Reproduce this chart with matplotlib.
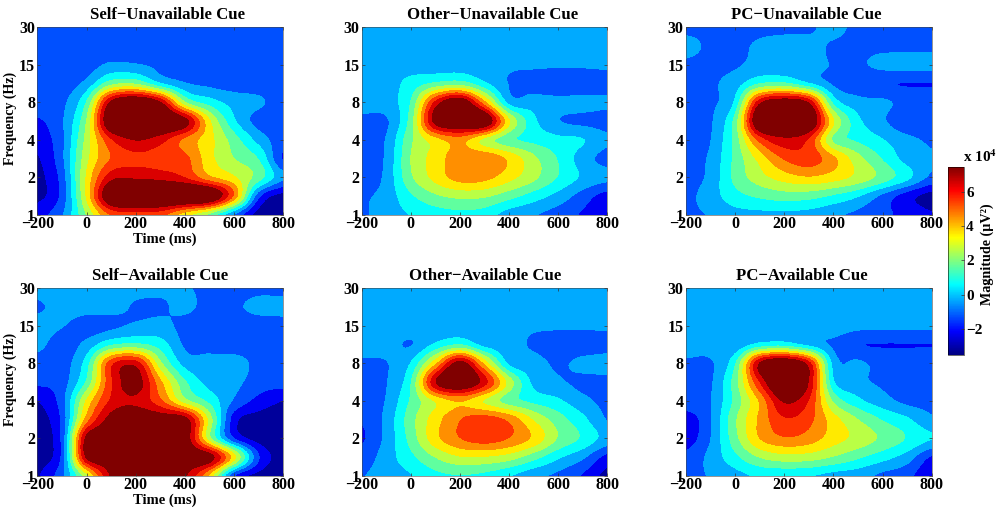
import numpy as np
import matplotlib
matplotlib.use("Agg")
import matplotlib.pyplot as plt
from matplotlib.cm import ScalarMappable
from matplotlib.colors import Normalize, ListedColormap

plt.rcParams['font.family'] = ['Liberation Serif', 'DejaVu Serif']
plt.rcParams['font.weight'] = 'bold'

TIMES = [-200, -100, 0, 100, 200, 300, 400, 500, 600, 700, 800]
FREQ_TICKS = [1, 2, 4, 8, 15, 30]
# each table: rows from 30 Hz (top) to 1 Hz (bottom), half-tick steps, values x 10^4
self_unavailable = [
 [-1.2,-1.2,-1.2,-1.2,-1.2,-1.2,-1.2,-1.2,-1.2,-1.2,-1.2],
 [-1.2,-1.2,-1.2,-1.2,-1.2,-1.2,-1.2,-1.2,-1.2,-1.2,-1.2],
 [-1.2,-1.2,-1.2,-0.6,-0.7,-1.0,-1.1,-1.2,-1.2,-1.2,-1.2],
 [-1.2,-1.2,-0.5, 1.6, 1.8, 0.2,-0.7,-1.0,-1.2,-1.2,-1.2],
 [-1.2,-1.0, 1.1, 6.8, 8.0, 6.6, 2.0, 0.6,-0.2,-0.6,-1.2],
 [-1.8,-0.9, 2.0, 8.0, 8.2, 8.2, 7.0, 3.0, 0.3,-1.1,-1.2],
 [-2.2,-1.0, 2.3, 5.5, 6.6, 6.0, 4.5, 3.2, 1.5,-0.2,-1.3],
 [-2.7,-1.0, 2.6, 4.8, 5.4, 5.2, 5.0, 3.2, 2.0, 1.0,-1.8],
 [-2.9,-1.3, 3.0, 6.2, 6.4, 6.2, 5.6, 4.0, 3.0, 1.5,-0.6],
 [-2.9,-1.4, 3.0, 8.0, 8.5, 8.5, 8.5, 8.0, 4.5,-1.5,-3.0],
 [-2.0,-0.9, 2.0, 4.8, 5.2, 5.0, 3.2, 1.6,-0.9,-3.0,-3.0],
]
other_unavailable = [
 [-0.3,-0.3,-0.3,-0.3,-0.3,-0.3,-0.3,-0.3,-0.3,-0.3,-0.3],
 [-0.3,-0.3,-0.3,-0.3,-0.3,-0.3,-0.3,-0.3,-0.3,-0.3,-0.3],
 [-0.3,-0.3,-0.3,-0.3,-0.3,-0.3,-0.6,-0.6,-0.6,-0.6,-0.6],
 [-0.3,-0.3, 0.5, 1.2, 1.5, 0.3,-0.8,-1.2,-1.6,-1.5,-1.1],
 [-0.3,-0.2, 1.1, 5.8, 7.6, 4.0,-0.2,-0.3,-0.4,-0.4,-0.6],
 [-1.0,-0.9, 1.5, 7.0, 8.0, 7.8, 3.0, 0.4,-0.7,-1.0,-1.1],
 [-1.0,-0.7, 1.8, 3.4, 4.2, 2.6, 1.3, 0.8, 0.4, 0.2,-0.6],
 [-1.5,-0.6, 2.0, 3.3, 4.4, 4.6, 3.6, 2.2, 1.0,-0.3,-1.1],
 [-1.5,-0.5, 1.8, 3.2, 4.2, 4.1, 3.2, 2.2, 1.0, 0.0,-0.5],
 [-0.9,-0.4, 0.9, 1.8, 2.2, 2.1, 1.4, 0.6,-0.2,-1.2,-2.1],
 [-0.9,-0.3, 0.2, 0.6, 0.8, 0.6,-0.3,-0.7,-1.2,-1.8,-2.4],
]
pc_unavailable = [
 [-1.0,-1.0,-1.0,-1.0,-1.0,-0.9,-0.5,-1.0,-1.0,-1.0,-1.0],
 [-0.5,-0.9,-1.0,-0.6,-0.4,-0.5,-0.85,-1.0,-1.0,-1.0,-1.0],
 [-0.9,-1.0,-0.9,-0.4,-0.5,-0.5,-0.8,-0.9,-0.5,-0.4,-0.4],
 [-1.0,-0.9,-0.3, 1.0, 1.2, 0.2,-0.9,-1.4,-1.6,-1.7,-1.7],
 [-1.0,-0.9, 0.3, 6.2, 7.4, 6.4, 0.8,-0.4,-0.6,-1.0,-1.0],
 [-1.3,-0.9, 1.4, 8.0, 8.2, 8.0, 3.0, 0.4,-0.6,-1.5,-1.4],
 [-1.3,-0.8, 1.4, 5.0, 6.3, 5.5, 1.8, 0.9, 0.2,-0.5,-0.9],
 [-1.1,-0.6, 1.3, 3.2, 4.8, 5.3, 4.0, 2.3, 1.0,-0.2,-0.7],
 [-1.2,-0.5, 1.3, 2.5, 3.3, 3.7, 3.3, 2.6, 1.6, 0.4,-1.0],
 [-1.0,-0.3, 0.7, 1.2, 1.5, 1.4, 0.9, 0.2,-1.0,-2.2,-3.0],
 [-0.9,-0.7,-0.2,-0.1,-0.1,-0.2,-0.6,-1.0,-1.5,-1.9,-2.5],
]
self_available = [
 [-0.4,-0.4,-0.4,-0.4,-0.5,-0.6,-0.7,-0.9,-1.1,-1.0,-1.1],
 [-0.9,-0.4,-0.4,-0.4,-0.85,-0.85,-0.6,-1.0,-0.9,-0.5,-0.4],
 [-0.4,-0.7,-1.2,-1.0,-0.6,-0.5,-1.0,-1.2,-1.2,-1.2,-1.2],
 [-0.5,-1.2,-0.5, 0.9, 1.2, 0.6,-0.9,-1.1,-1.2,-1.2,-1.2],
 [-1.2,-1.2, 0.6, 5.3, 6.1, 2.2,-0.2,-0.4,-0.4,-1.0,-1.1],
 [-1.5,-1.2, 1.2, 5.5, 7.1, 4.0, 1.2,-0.2,-0.5,-1.2,-1.3],
 [-2.6,-1.2, 3.0, 5.8, 6.4, 4.9, 2.3, 0.8,-0.9,-2.0,-2.6],
 [-3.0,-1.5, 4.2, 7.0, 7.3, 7.3, 7.0, 2.5,-2.2,-3.0,-3.0],
 [-3.0,-1.5, 6.9, 7.4, 7.4, 7.4, 7.3, 2.3,-1.7,-3.0,-3.0],
 [-3.0,-1.5, 6.7, 7.4, 7.4, 7.4, 7.4, 7.1, 3.2,-1.6,-3.0],
 [-2.7,-1.0, 2.5, 6.7, 6.8, 6.8, 6.7, 3.5,-1.7,-2.9,-3.0],
]
other_available = [
 [-0.3,-0.3,-0.3,-0.3,-0.3,-0.3,-0.3,-0.3,-0.3,-0.3,-0.3],
 [-0.3,-0.3,-0.3,-0.3,-0.3,-0.3,-0.3,-0.3,-0.3,-0.3,-0.3],
 [-0.3,-0.3,-0.3,-0.3,-0.3,-0.3,-0.5,-0.6,-0.6,-0.6,-0.6],
 [-0.3,-0.4,-0.8, 0.3, 1.0,-0.2,-0.4,-0.9,-1.3,-1.3,-1.1],
 [-0.9,-0.8, 0.2, 3.5, 7.0, 3.5,-0.1,-0.4,-0.9,-0.5,-0.4],
 [-1.0,-0.8, 1.0, 6.5, 8.0, 6.0, 2.5,-0.1,-0.6,-1.0,-1.0],
 [-1.2,-0.7, 1.2, 3.0, 3.9, 2.8, 1.5, 0.8, 0.3,-0.5,-1.0],
 [-1.6,-0.5, 1.6, 3.4, 4.7, 5.2, 4.5, 2.8, 1.5, 0.4,-0.8],
 [-1.8,-0.5, 1.4, 3.5, 4.7, 5.2, 4.7, 3.6, 1.9, 0.9,-0.2],
 [-1.3,-0.3, 0.8, 2.0, 2.8, 2.8, 2.4, 1.4, 0.3,-0.6,-2.0],
 [-0.8,-0.3, 0.1, 0.8, 1.0, 0.8, 0.2,-0.5,-1.0,-1.8,-2.9],
]
pc_available = [
 [-0.3,-0.3,-0.3,-0.3,-0.3,-0.3,-0.3,-0.3,-0.3,-0.3,-0.3],
 [-0.3,-0.3,-0.3,-0.3,-0.3,-0.3,-0.3,-0.3,-0.3,-0.3,-0.3],
 [-0.3,-0.3,-0.3,-0.3,-0.3,-0.3,-0.3,-0.5,-0.5,-0.5,-0.5],
 [-0.3,-0.3,-0.5, 0.4, 0.6,-0.2,-0.9,-1.6,-1.7,-1.7,-1.7],
 [-0.9,-0.9, 0.9, 6.6, 8.0, 6.0,-0.2,-0.6,-1.0,-1.0,-1.0],
 [-1.0,-0.9, 1.5, 5.6, 8.5, 6.5, 0.3,-0.5,-0.9,-1.0,-1.4],
 [-1.1,-0.8, 1.3, 3.9, 6.7, 5.6, 1.8, 0.4,-0.4,-1.0,-1.1],
 [-2.2,-0.9, 1.8, 4.0, 5.5, 5.0, 3.3, 2.0, 1.0, 0.3,-0.6],
 [-2.2,-0.8, 1.6, 3.8, 4.6, 4.3, 3.3, 2.6, 1.8, 1.0, 0.2],
 [-1.4,-0.5, 0.8, 2.0, 2.5, 2.4, 1.9, 1.2, 0.5,-0.3,-1.8],
 [-0.9,-0.7,-0.2, 0.3, 0.3, 0.2,-0.2,-0.4,-1.0,-1.4,-2.6],
]

PANELS = [
    ("Self\u2212Unavailable Cue", self_unavailable, (37.3, 27, 283.3, 215), 167, True),
    ("Other\u2212Unavailable Cue", other_unavailable, (361.7, 27, 607.3, 215), 493, False),
    ("PC\u2212Unavailable Cue", pc_unavailable, (685.7, 27, 931.7, 215), 806, False),
    ("Self\u2212Available Cue", self_available, (37.3, 288, 283.3, 476), 160, True),
    ("Other\u2212Available Cue", other_available, (361.7, 288, 607.3, 476), 485, False),
    ("PC\u2212Available Cue", pc_available, (685.7, 288, 931.7, 476), 802, False),
]
VMIN, VMAX = -3.5, 7.5
LEVELS = np.linspace(VMIN, VMAX, 13)
W, H = 1000, 513


def matlab_jet(x):
    x = np.asarray(x, float)
    r = np.clip(np.minimum(4 * x - 1.5, -4 * x + 4.5), 0, 1)
    g = np.clip(np.minimum(4 * x - 0.5, -4 * x + 3.5), 0, 1)
    b = np.clip(np.minimum(4 * x + 0.5, -4 * x + 2.5), 0, 1)
    return np.stack([r, g, b], axis=-1)


BAND_COLORS = matlab_jet((np.arange(12) + 0.3) / 11.3)
JET = ListedColormap(matlab_jet(np.linspace(0, 1, 256)))


def cubic_axis(a, factor, axis):
    a = np.moveaxis(a, axis, 0)
    n = a.shape[0]
    u = np.linspace(0, n - 1, (n - 1) * factor + 1)
    i = np.clip(np.floor(u).astype(int), 0, n - 2)
    t = (u - i).reshape((-1,) + (1,) * (a.ndim - 1))
    p0, p1, p2, p3 = a[np.maximum(i - 1, 0)], a[i], a[i + 1], a[np.minimum(i + 2, n - 1)]
    out = 0.5 * (2 * p1 + (p2 - p0) * t + (2 * p0 - 5 * p1 + 4 * p2 - p3) * t ** 2
                 + (3 * p1 - p0 - 3 * p2 + p3) * t ** 3)
    return np.moveaxis(out, 0, axis)


def add_axes(l, t, r, b):
    return fig.add_axes([l / W, 1 - b / H, (r - l) / W, (b - t) / H])


fig = plt.figure(figsize=(W / 100, H / 100), dpi=100)
for title, table, box, title_x, left in PANELS:
    ax = add_axes(*box)
    z = np.array(table, float)[::-1]
    fine = cubic_axis(cubic_axis(z, 8, 0), 8, 1)
    x = np.linspace(TIMES[0], TIMES[-1], fine.shape[1])
    y = np.linspace(0, len(FREQ_TICKS) - 1, fine.shape[0])
    ax.contourf(x, y, np.clip(fine, VMIN + 0.01, VMAX - 0.01), levels=LEVELS,
                colors=[tuple(c) for c in BAND_COLORS])
    ax.set_xlim(TIMES[0], TIMES[-1])
    ax.set_ylim(0, len(FREQ_TICKS) - 1)
    ax.set_xticks([-200, 0, 200, 400, 600, 800])
    ax.set_xticklabels(['\u2212200', '0', '200', '400', '600', '800'])
    ax.set_yticks(range(len(FREQ_TICKS)))
    ax.set_yticklabels([str(f) for f in FREQ_TICKS])
    ax.tick_params(direction='in', length=2, width=0.5, labelsize=11.5, top=True, right=True,
                   color='#333333')
    ax.tick_params(axis='x', pad=1)
    ax.tick_params(axis='y', pad=1.5)
    for s in ax.spines.values():
        s.set_linewidth(0.4)
        s.set_color('#444444')
    fig.text(title_x / W, 1 - (box[1] - 14) / H + 0.004 - 2 / H - 0.004, title, fontsize=12.1,
             fontweight='bold', ha='center', va='center')
    if left:
        ax.set_xlabel('Time (ms)', fontsize=10.5, fontweight='bold', va='center')
        ax.xaxis.set_label_coords((165 - box[0]) / (box[2] - box[0]), -24 / 188)
        ax.set_ylabel('Frequency (Hz)', fontsize=10, fontweight='bold', va='center')
        ax.yaxis.set_label_coords((10 - box[0]) / (box[2] - box[0]), 0.512)

cax = add_axes(947.7, 166.7, 964, 355)
sm = ScalarMappable(norm=Normalize(-3.5, 7.45), cmap=JET)
cb = fig.colorbar(sm, cax=cax)
cb.set_ticks([-2, 0, 2, 4, 6])
cb.set_ticklabels(['\u22122', '0', '2', '4', '6'])
cb.ax.tick_params(direction='in', length=2, width=0.5, labelsize=11, pad=1.5, color='#333333')
cb.outline.set_linewidth(0.4)
fig.text(980 / W, 1 - 157 / H, 'x 10$^{\\mathbf{4}}$', fontsize=11, fontweight='bold',
         ha='center', va='center', math_fontfamily='stix')
fig.text(987 / W, 1 - 254 / H, 'Magnitude (\u00b5V\u00b2)', rotation=90, fontsize=10.2,
         fontweight='bold', ha='center', va='center')
fig.savefig('out.png', dpi=100)
